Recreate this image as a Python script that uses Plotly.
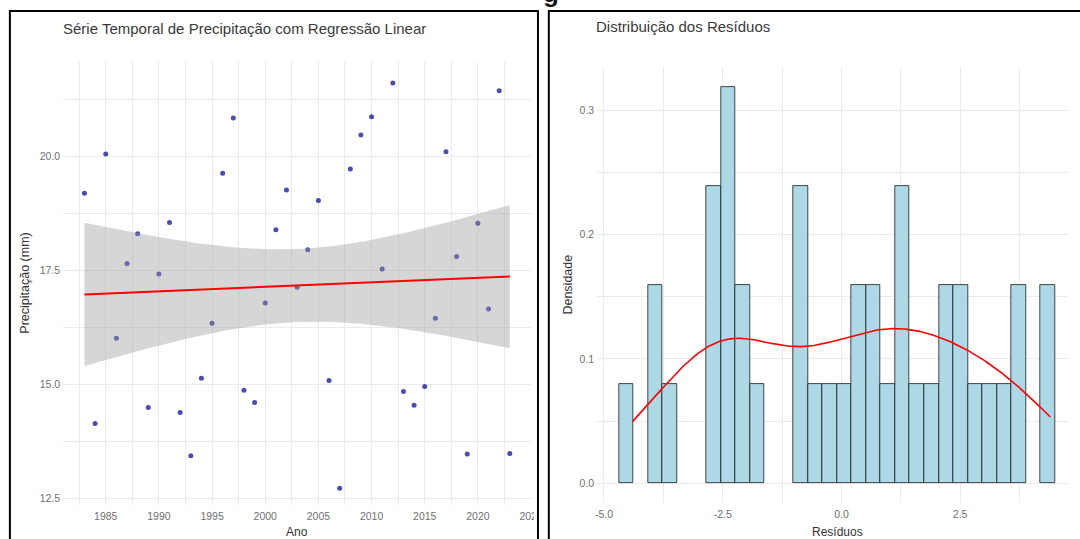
import numpy as np
import plotly.graph_objects as go

# ---------------- data ----------------
anos = list(range(1983, 2024))
precipitacao = [19.19, 14.14, 20.05, 16.01, 17.65, 18.30, 14.49, 17.42, 18.55, 14.38,
                13.43, 15.13, 16.34, 19.63, 20.84, 14.87, 14.60, 16.78, 18.39, 19.26,
                17.13, 17.95, 19.03, 15.08, 12.72, 19.72, 20.47, 20.87, 17.53, 21.61,
                14.84, 14.54, 14.95, 16.45, 20.10, 17.80, 13.47, 18.53, 16.65, 21.44, 13.48]
residuos = [-4.40, -3.89, -3.86, -3.64, -2.80, -2.74, -2.68, -2.50, -2.46, -2.40,
            -2.32, -2.15, -2.05, -1.80, -0.96, -0.85, -0.75, -0.62, -0.30, -0.04,
            0.28, 0.38, 0.58, 0.70, 0.95, 1.20, 1.24, 1.28, 1.55, 1.84,
            2.10, 2.22, 2.50, 2.53, 2.79, 3.10, 3.40, 3.68, 3.75, 4.28, 4.40]
ticks_ano = [1985, 1990, 1995, 2000, 2005, 2010, 2015, 2020, 2025]
ticks_prec = [12.5, 15.0, 17.5, 20.0]
ticks_res = [-5.0, -2.5, 0.0, 2.5]
ticks_dens = [0.0, 0.1, 0.2, 0.3]

# ---------------- linear regression with 95% CI (like geom_smooth lm) ----------------
x = np.array(anos, dtype=float)
y = np.array(precipitacao, dtype=float)
n = len(x)
xm = x.mean()
sxx = ((x - xm) ** 2).sum()
b1 = ((x - xm) * (y - y.mean())).sum() / sxx
b0 = y.mean() - b1 * xm
s = np.sqrt(((y - (b0 + b1 * x)) ** 2).sum() / (n - 2))
xg = np.linspace(x.min(), x.max(), 80)
fit = b0 + b1 * xg
se = s * np.sqrt(1 / n + (xg - xm) ** 2 / sxx)
tq = 2.0227  # t(0.975, df = 39)
lo, hi = fit - tq * se, fit + tq * se

# ---------------- kernel density of residuals (bw.nrd0) ----------------
r = np.array(residuos)
q75, q25 = np.percentile(r, [75, 25])
bw = 0.9 * min(r.std(ddof=1), (q75 - q25) / 1.34) * len(r) ** (-0.2)
grid = np.linspace(r.min(), r.max(), 512)
dens = np.exp(-0.5 * ((grid[:, None] - r[None, :]) / bw) ** 2).sum(axis=1) / (len(r) * bw * np.sqrt(2 * np.pi))

W, H = 1080, 539
def px(v):
    return v / W
def py(v):
    return 1 - v / H

FONT = "Liberation Sans, Arial, sans-serif"
GRID = "#EBEBEB"

fig = go.Figure()

fig.add_trace(go.Scatter(x=anos, y=precipitacao, mode="markers",
                         marker=dict(color="rgba(30,30,160,0.8)", size=5),
                         xaxis="x", yaxis="y", hoverinfo="skip"))
fig.add_trace(go.Scatter(x=np.concatenate([xg, xg[::-1]]), y=np.concatenate([hi, lo[::-1]]),
                         fill="toself", fillcolor="rgba(153,153,153,0.4)", line=dict(width=0),
                         mode="lines", xaxis="x", yaxis="y", hoverinfo="skip"))
fig.add_trace(go.Scatter(x=xg, y=fit, mode="lines", line=dict(color="red", width=2),
                         xaxis="x", yaxis="y", hoverinfo="skip"))

fig.add_trace(go.Histogram(x=residuos, xbins=dict(start=-4.684, end=4.50, size=0.306),
                           histnorm="probability density", autobinx=False,
                           marker=dict(color="#ADD8E6", line=dict(color="#1a1a1a", width=0.8)),
                           xaxis="x2", yaxis="y2", hoverinfo="skip"))
fig.add_trace(go.Scatter(x=grid, y=dens, mode="lines", line=dict(color="red", width=1.6),
                         xaxis="x2", yaxis="y2", hoverinfo="skip"))

axis_common = dict(showline=False, zeroline=False, ticks="", showgrid=True, gridcolor=GRID,
                   gridwidth=1, tickfont=dict(family=FONT, size=10.5, color="#707070"))

fig.update_layout(
    width=W, height=H, margin=dict(l=0, r=0, t=0, b=0),
    paper_bgcolor="white", plot_bgcolor="white", showlegend=False, bargap=0,
    font=dict(family=FONT),
    xaxis=dict(domain=[px(62), px(536)], range=[1981, 2025], tickmode="array",
               tickvals=ticks_ano, ticktext=[str(t) for t in ticks_ano], ticklabelstandoff=3,
               minor=dict(tickvals=[1982.5 + 5 * i for i in range(9)], showgrid=True,
                          gridcolor=GRID, gridwidth=0.5),
               anchor="y", **axis_common),
    yaxis=dict(domain=[py(505), py(62)], range=[12.35, 22.07], tickmode="array",
               tickvals=ticks_prec, ticktext=[f"{t:.1f}" for t in ticks_prec], ticklabelstandoff=2,
               minor=dict(tickvals=[13.75, 16.25, 18.75, 21.25], showgrid=True,
                          gridcolor=GRID, gridwidth=0.5),
               anchor="x", **axis_common),
    xaxis2=dict(domain=[px(603), 1.0], range=[-5.143, 4.771], tickmode="array",
                tickvals=ticks_res, ticktext=[f"{t:.1f}" for t in ticks_res], ticklabelstandoff=3,
                minor=dict(tickvals=[-3.75, -1.25, 1.25, 3.75], showgrid=True,
                           gridcolor=GRID, gridwidth=0.5),
                anchor="y2", **axis_common),
    yaxis2=dict(domain=[py(503), py(67)], range=[-0.0159, 0.3347], tickmode="array",
                tickvals=ticks_dens, ticktext=[f"{t:.1f}" for t in ticks_dens], ticklabelstandoff=2,
                minor=dict(tickvals=[0.05, 0.15, 0.25], showgrid=True,
                           gridcolor=GRID, gridwidth=0.5),
                anchor="x2", **axis_common),
)

ann = [
    dict(text="Série Temporal de Precipitação com Regressão Linear", x=px(60), y=py(28),
         xanchor="left", yanchor="middle", font=dict(size=15, color="#3a3a3a")),
    dict(text="Distribuição dos Resíduos", x=px(600), y=py(27),
         xanchor="left", yanchor="middle", font=dict(size=15, color="#3a3a3a")),
    dict(text="Ano", x=px(299), y=py(531.5), xanchor="center", yanchor="middle",
         font=dict(size=12, color="#333333")),
    dict(text="Resíduos", x=px(846), y=py(531.5), xanchor="center", yanchor="middle",
         font=dict(size=12, color="#333333")),
    dict(text="Precipitação (mm)", x=px(23), y=py(283), textangle=-90, xanchor="center",
         yanchor="middle", font=dict(size=12.5, color="#333333")),
    dict(text="Densidade", x=px(573), y=py(285), textangle=-90, xanchor="center",
         yanchor="middle", font=dict(size=12.5, color="#333333")),
    dict(text="<b>g</b>", x=px(556), y=py(10), xanchor="center", yanchor="bottom",
         font=dict(size=26, color="#111111")),
]
for a in ann:
    a.update(xref="paper", yref="paper", showarrow=False)
    a["font"]["family"] = FONT
fig.update_layout(annotations=ann)

shapes = [
    dict(type="rect", x0=px(539), x1=px(553), y0=py(539), y1=py(506), fillcolor="white",
         line=dict(width=0), layer="above"),
    dict(type="rect", x0=px(8), x1=px(543), y0=-0.2, y1=py(11), line=dict(color="black", width=2),
         fillcolor="rgba(0,0,0,0)", layer="above"),
    dict(type="rect", x0=px(554), x1=1.2, y0=-0.2, y1=py(11), line=dict(color="black", width=2),
         fillcolor="rgba(0,0,0,0)", layer="above"),
]
for sh in shapes:
    sh.update(xref="paper", yref="paper")
fig.update_layout(shapes=shapes)

fig.write_html(
    "out.html",
    config={"displayModeBar": False},
    post_script="document.body.style.margin='0px';document.body.style.overflow='hidden';"
                "document.documentElement.style.overflow='hidden';",
)
